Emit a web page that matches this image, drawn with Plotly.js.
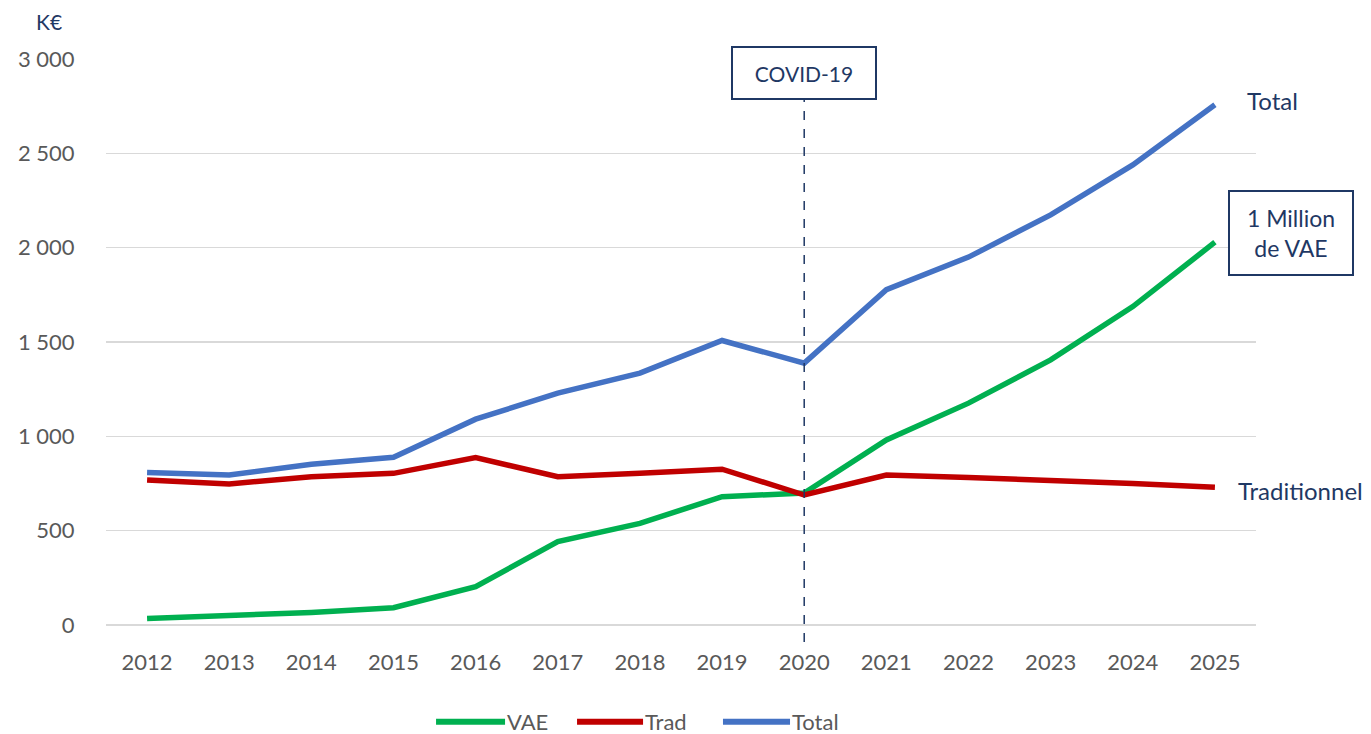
<!DOCTYPE html>
<html>
<head>
<meta charset="utf-8">
<script src="https://cdn.plot.ly/plotly-3.0.1.min.js"></script>
<style>html,body{margin:0;padding:0;background:#fff;}#chart{width:1371px;height:734px;}</style>
</head>
<body>
<div id="chart"></div>
<script>
const years = [2012, 2013, 2014, 2015, 2016, 2017, 2018, 2019, 2020, 2021, 2022, 2023, 2024, 2025];
const vae   = [35, 49, 67, 92, 203, 442, 539, 680, 700, 981, 1176, 1405, 1688, 2029];
const trad  = [769, 748, 786, 804, 887, 786, 804, 826, 689, 795, 782, 768, 750, 730];
const total = [808, 795, 852, 889, 1091, 1229, 1335, 1508, 1388, 1777, 1950, 2174, 2439, 2758];
const seriesNames = ['VAE', 'Trad', 'Total'];
const seriesColors = ['#00B050', '#C00000', '#4472C4'];
const covidYear = 2020;
const yTicks = [0, 500, 1000, 1500, 2000, 2500, 3000];

const navy = '#1F3864';
const grey = '#595959';
const font = 'Lato, "Open Sans", sans-serif';
const last = years.length - 1;
const yMin = -90;

const seriesValues = [vae, trad, total];
const traces = seriesValues.map((vals, i) => ({
  x: years, y: vals, name: seriesNames[i], mode: 'lines',
  line: {color: seriesColors[i], width: 5.5}, showlegend: false
}));

// Custom legend (longer line keys, like the original)
const legendY = -0.137;
const legendKeys = [[0.287, 0.347], [0.4096, 0.467], [0.5365, 0.5948]];
const legendShapes = legendKeys.map((k, i) => ({
  type: 'line', xref: 'paper', yref: 'paper', x0: k[0], x1: k[1], y0: legendY, y1: legendY,
  line: {color: seriesColors[i], width: 6}
}));
const legendTexts = legendKeys.map((k, i) => ({
  xref: 'paper', yref: 'paper', x: k[1], y: legendY, xanchor: 'left', yanchor: 'middle',
  text: seriesNames[i], showarrow: false, xshift: 0, font: {family: font, size: 22, color: grey}
}));

const layout = {
  width: 1371, height: 734,
  margin: {l: 106, r: 115, t: 59, b: 92, autoexpand: false},
  paper_bgcolor: '#fff', plot_bgcolor: '#fff',
  separators: ', ',
  font: {family: font, color: grey},
  showlegend: false,
  xaxis: {
    range: [2011.5, 2025.5], tickmode: 'array', tickvals: years, ticktext: years.map(String),
    showgrid: false, zeroline: false, showline: false, automargin: false,
    ticks: 'outside', ticklen: 1, tickcolor: 'rgba(0,0,0,0)',
    tickfont: {family: font, size: 22, color: grey}
  },
  yaxis: {
    range: [yMin, 3000], tickmode: 'array', tickvals: yTicks, tickformat: ',d',
    showgrid: true, gridcolor: '#D9D9D9', gridwidth: 1.5,
    zeroline: false, showline: false, automargin: false,
    ticks: 'outside', ticklen: 26, tickcolor: 'rgba(0,0,0,0)',
    tickfont: {family: font, size: 22, color: grey}
  },
  shapes: [
    {type: 'line', xref: 'x', yref: 'y', x0: covidYear, x1: covidYear, y0: yMin, y1: 2790,
     line: {color: navy, width: 1.5, dash: 'dash'}, layer: 'above'}
  ].concat(legendShapes),
  annotations: [
    {xref: 'paper', yref: 'paper', x: -0.0496, y: 1.064, xanchor: 'center', yanchor: 'middle',
     text: 'K€', showarrow: false, font: {family: font, size: 21, color: navy}},
    {xref: 'x', yref: 'y', x: covidYear, y: 2927, text: 'COVID-19', showarrow: false,
     font: {family: font, size: 21, color: navy}, bgcolor: '#fff', bordercolor: navy,
     borderwidth: 2, borderpad: 2, width: 138, height: 46},
    {xref: 'x', yref: 'y', x: years[last], y: total[last], text: 'Total', showarrow: false,
     xanchor: 'left', xshift: 30, yshift: 4, font: {family: font, size: 24, color: navy}},
    {xref: 'x', yref: 'y', x: years[last], y: trad[last], text: 'Traditionnel', showarrow: false,
     xanchor: 'left', xshift: 21, yshift: -3, font: {family: font, size: 24, color: navy}},
    {xref: 'x', yref: 'y', x: years[last], y: vae[last], text: '1 Million<br>de VAE', showarrow: false,
     xanchor: 'left', xshift: 13, yshift: 9, align: 'center', font: {family: font, size: 23, color: navy},
     bgcolor: '#fff', bordercolor: navy, borderwidth: 2, borderpad: 2, width: 118, height: 78}
  ].concat(legendTexts)
};

Plotly.newPlot('chart', traces, layout, {displayModeBar: false, staticPlot: true});
</script>
</body>
</html>
